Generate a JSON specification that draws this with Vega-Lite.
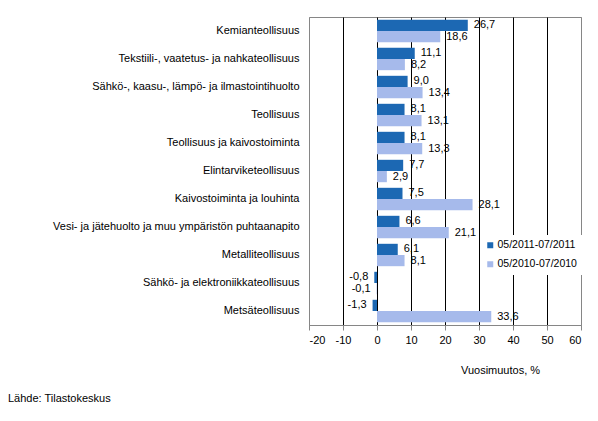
{
  "$schema": "https://vega.github.io/schema/vega-lite/v6.json",
  "width": 272,
  "height": 308,
  "autosize": {"type": "none"},
  "padding": {"left": 309, "top": 17, "right": 17, "bottom": 96},
  "background": "white",
  "config": {
    "font": "Liberation Sans",
    "view": {"stroke": "#868686"},
    "locale": {
      "number": {"decimal": ",", "thousands": " ", "grouping": [3], "currency": ["", " €"], "minus": "-"}
    }
  },
  "title": {
    "text": "Lähde: Tilastokeskus",
    "orient": "bottom",
    "anchor": "start",
    "frame": "group",
    "dx": -301,
    "offset": 18,
    "fontSize": 11,
    "fontWeight": "normal",
    "color": "black",
    "font": "Liberation Sans"
  },
  "data": {
    "values": [
      {"toimiala": "Kemianteollisuus", "jakso": "05/2011-07/2011", "muutos": 26.7},
      {"toimiala": "Kemianteollisuus", "jakso": "05/2010-07/2010", "muutos": 18.6},
      {"toimiala": "Tekstiili-, vaatetus- ja nahkateollisuus", "jakso": "05/2011-07/2011", "muutos": 11.1},
      {"toimiala": "Tekstiili-, vaatetus- ja nahkateollisuus", "jakso": "05/2010-07/2010", "muutos": 8.2},
      {"toimiala": "Sähkö-, kaasu-, lämpö- ja ilmastointihuolto", "jakso": "05/2011-07/2011", "muutos": 9.0},
      {"toimiala": "Sähkö-, kaasu-, lämpö- ja ilmastointihuolto", "jakso": "05/2010-07/2010", "muutos": 13.4},
      {"toimiala": "Teollisuus", "jakso": "05/2011-07/2011", "muutos": 8.1},
      {"toimiala": "Teollisuus", "jakso": "05/2010-07/2010", "muutos": 13.1},
      {"toimiala": "Teollisuus ja kaivostoiminta", "jakso": "05/2011-07/2011", "muutos": 8.1},
      {"toimiala": "Teollisuus ja kaivostoiminta", "jakso": "05/2010-07/2010", "muutos": 13.3},
      {"toimiala": "Elintarviketeollisuus", "jakso": "05/2011-07/2011", "muutos": 7.7},
      {"toimiala": "Elintarviketeollisuus", "jakso": "05/2010-07/2010", "muutos": 2.9},
      {"toimiala": "Kaivostoiminta ja louhinta", "jakso": "05/2011-07/2011", "muutos": 7.5},
      {"toimiala": "Kaivostoiminta ja louhinta", "jakso": "05/2010-07/2010", "muutos": 28.1},
      {"toimiala": "Vesi- ja jätehuolto ja muu ympäristön puhtaanapito", "jakso": "05/2011-07/2011", "muutos": 6.6},
      {"toimiala": "Vesi- ja jätehuolto ja muu ympäristön puhtaanapito", "jakso": "05/2010-07/2010", "muutos": 21.1},
      {"toimiala": "Metalliteollisuus", "jakso": "05/2011-07/2011", "muutos": 6.1},
      {"toimiala": "Metalliteollisuus", "jakso": "05/2010-07/2010", "muutos": 8.1},
      {"toimiala": "Sähkö- ja elektroniikkateollisuus", "jakso": "05/2011-07/2011", "muutos": -0.8},
      {"toimiala": "Sähkö- ja elektroniikkateollisuus", "jakso": "05/2010-07/2010", "muutos": -0.1},
      {"toimiala": "Metsäteollisuus", "jakso": "05/2011-07/2011", "muutos": -1.3},
      {"toimiala": "Metsäteollisuus", "jakso": "05/2010-07/2010", "muutos": 33.6}
    ]
  },
  "encoding": {
    "y": {
      "field": "toimiala",
      "type": "nominal",
      "sort": null,
      "title": null,
      "scale": {"paddingInner": 0.2, "paddingOuter": 0.1},
      "axis": {
        "domain": false,
        "ticks": false,
        "labelPadding": 10,
        "labelFontSize": 11,
        "labelColor": "black",
        "labelLimit": 300
      }
    },
    "yOffset": {
      "field": "jakso",
      "type": "nominal",
      "sort": ["05/2011-07/2011", "05/2010-07/2010"],
      "scale": {"paddingInner": 0, "paddingOuter": 0}
    },
    "x": {
      "field": "muutos",
      "type": "quantitative",
      "scale": {"domain": [-20, 60], "nice": false},
      "axis": {
        "values": [-20, -10, 0, 10, 20, 30, 40, 50, 60],
        "title": "Vuosimuutos, %",
        "titleFontSize": 11,
        "titleFontWeight": "normal",
        "titleColor": "black",
        "titleX": 191,
        "titleY": 39,
        "labelFontSize": 11,
        "labelColor": "black",
        "labelPadding": 4,
        "domainColor": "#868686",
        "tickColor": "#868686",
        "tickSize": 5,
        "grid": true,
        "gridColor": {
          "condition": {"test": "datum.value == -20 || datum.value == 60", "value": "#868686"},
          "value": "black"
        },
        "gridOpacity": 1
      }
    }
  },
  "layer": [
    {
      "mark": {"type": "bar"},
      "encoding": {
        "color": {
          "field": "jakso",
          "type": "nominal",
          "sort": ["05/2011-07/2011", "05/2010-07/2010"],
          "scale": {"range": ["#1C68B3", "#A6BAEB"]},
          "legend": {
            "title": null,
            "orient": "none",
            "legendX": 171,
            "legendY": 218,
            "fillColor": "white",
            "padding": 5,
            "symbolType": "square",
            "symbolSize": 36,
            "symbolStrokeWidth": 0,
            "symbolOpacity": 1,
            "labelFontSize": 10.5,
            "labelColor": "black",
            "labelOffset": 2,
            "rowPadding": 8
          }
        }
      }
    },
    {
      "transform": [{"filter": "datum.muutos >= 0"}],
      "mark": {"type": "text", "align": "left", "baseline": "middle", "dx": 6, "fontSize": 11, "color": "black"},
      "encoding": {
        "text": {"field": "muutos", "type": "quantitative", "format": ".1f"}
      }
    },
    {
      "transform": [{"filter": "datum.muutos < 0"}],
      "mark": {"type": "text", "align": "right", "baseline": "middle", "dx": -6, "fontSize": 11, "color": "black"},
      "encoding": {
        "text": {"field": "muutos", "type": "quantitative", "format": ".1f"}
      }
    }
  ]
}
